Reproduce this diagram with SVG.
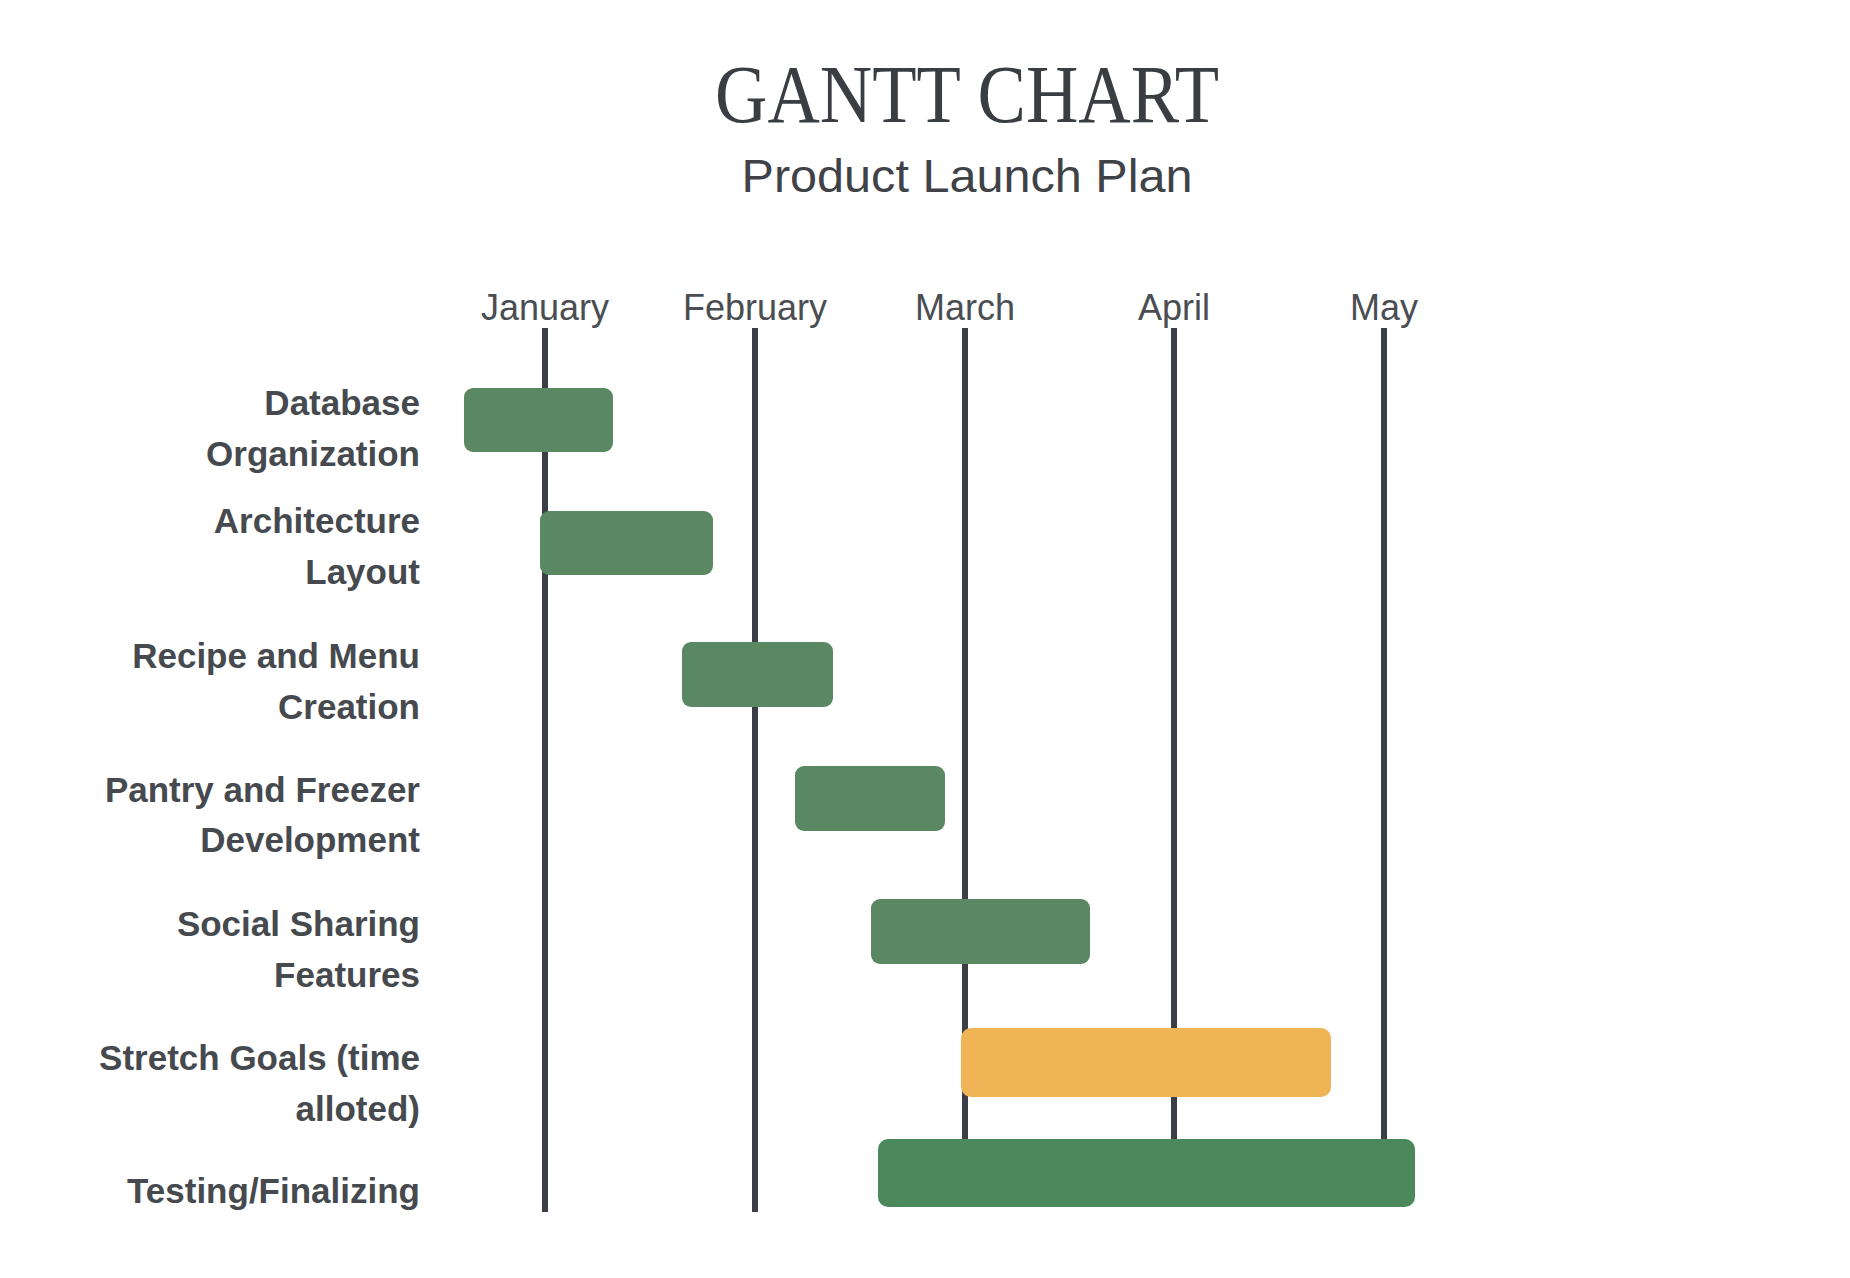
<svg xmlns="http://www.w3.org/2000/svg" width="1850" height="1278" viewBox="0 0 1850 1278">
<style>
.t{font-family:"Liberation Serif",serif;fill:#3a3d42}
.s{font-family:"Liberation Sans",Arial,sans-serif;fill:#3f4247}
.m{font-family:"Liberation Sans",Arial,sans-serif;fill:#4a4d52;font-size:36px;text-anchor:middle}
.l{font-family:"Liberation Sans",Arial,sans-serif;fill:#464a4f;font-size:35px;font-weight:bold;text-anchor:end}
.g{fill:#5a8862}
.line{stroke:#3b3f45;stroke-width:6}
</style>
<rect width="1850" height="1278" fill="#fff"/>
<g id="title">
<text class="t" x="967" y="122" font-size="82" text-anchor="middle" textLength="504" lengthAdjust="spacingAndGlyphs">GANTT CHART</text>
<text class="s" x="967" y="192" font-size="46" text-anchor="middle" textLength="451" lengthAdjust="spacingAndGlyphs">Product Launch Plan</text>
</g>
<g id="months">
<text class="m" x="545" y="320">January</text>
<text class="m" x="755" y="320">February</text>
<text class="m" x="965" y="320">March</text>
<text class="m" x="1174" y="320">April</text>
<text class="m" x="1384" y="320">May</text>
</g>
<g id="connectors">
<line class="line" x1="545" y1="328" x2="545" y2="1212"/>
<line class="line" x1="755" y1="328" x2="755" y2="1212"/>
<line class="line" x1="965" y1="328" x2="965" y2="1140"/>
<line class="line" x1="1174" y1="328" x2="1174" y2="1140"/>
<line class="line" x1="1384" y1="328" x2="1384" y2="1140"/>
</g>
<g id="labels">
<text class="l" x="420" y="415">Database</text>
<text class="l" x="420" y="466">Organization</text>
<text class="l" x="420" y="533">Architecture</text>
<text class="l" x="420" y="584">Layout</text>
<text class="l" x="420" y="668">Recipe and Menu</text>
<text class="l" x="420" y="719">Creation</text>
<text class="l" x="420" y="802">Pantry and Freezer</text>
<text class="l" x="420" y="852">Development</text>
<text class="l" x="420" y="936">Social Sharing</text>
<text class="l" x="420" y="987">Features</text>
<text class="l" x="420" y="1070">Stretch Goals (time</text>
<text class="l" x="420" y="1121">alloted)</text>
<text class="l" x="420" y="1203">Testing/Finalizing</text>
</g>
<g id="bar1"><rect class="g" x="464" y="388" width="149" height="64" rx="9"/></g>
<g id="bar2"><rect class="g" x="540" y="511" width="173" height="64" rx="9"/></g>
<g id="bar3"><rect class="g" x="682" y="642" width="151" height="65" rx="9"/></g>
<g id="bar4"><rect class="g" x="795" y="766" width="150" height="65" rx="9"/></g>
<g id="bar5"><rect class="g" x="871" y="899" width="219" height="65" rx="9"/></g>
<g id="bar6"><rect fill="#eeb455" x="961" y="1028" width="370" height="69" rx="10"/></g>
<g id="bar7"><rect fill="#4b895c" x="878" y="1139" width="537" height="68" rx="10"/></g>
</svg>
